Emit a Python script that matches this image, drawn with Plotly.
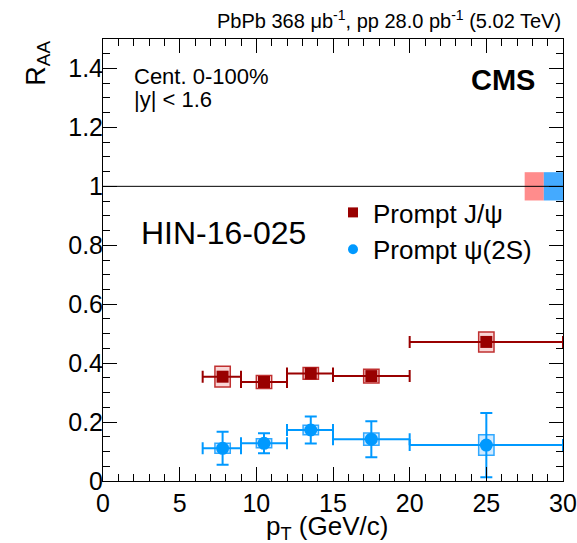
import plotly.graph_objects as go

# ---- data ----
pt_jpsi = [7.8, 10.5, 13.55, 17.5, 25.0]
pt_lo = [6.5, 9.0, 12.0, 15.0, 20.0]
pt_hi = [9.0, 12.0, 15.0, 20.0, 30.0]
raa_jpsi = [0.354, 0.336, 0.365, 0.356, 0.472]
stat_jpsi = [0.006, 0.005, 0.005, 0.005, 0.008]
syst_jpsi = [0.035, 0.022, 0.020, 0.023, 0.034]

pt_psi2s = [7.8, 10.5, 13.55, 17.5, 25.0]
raa_psi2s = [0.111, 0.128, 0.173, 0.142, 0.122]
stat_psi2s = [0.056, 0.034, 0.046, 0.061, 0.109]
syst_psi2s = [0.017, 0.015, 0.016, 0.021, 0.035]

glob_jpsi = 0.048
glob_psi2s = 0.048
glob_x_jpsi = [27.5, 28.75]
glob_x_psi2s = [28.75, 30.0]
syst_halfwidth = 0.5

RED = "#990000"
BLUE = "#0099ff"
FONT = "Liberation Sans"

fig = go.Figure()

shapes = []
for x, y, s in zip(pt_jpsi, raa_jpsi, syst_jpsi):
    shapes.append(dict(type="rect", xref="x", yref="y", x0=x - syst_halfwidth, x1=x + syst_halfwidth,
                       y0=y - s, y1=y + s, fillcolor="rgba(230,90,90,0.25)",
                       line=dict(color="#c03030", width=1.5), layer="below"))
for x, y, s in zip(pt_psi2s, raa_psi2s, syst_psi2s):
    shapes.append(dict(type="rect", xref="x", yref="y", x0=x - syst_halfwidth, x1=x + syst_halfwidth,
                       y0=y - s, y1=y + s, fillcolor="rgba(0,140,255,0.18)",
                       line=dict(color="#30a8ff", width=1.5), layer="below"))
# global uncertainty boxes
shapes.append(dict(type="rect", xref="x", yref="y", x0=glob_x_jpsi[0], x1=glob_x_jpsi[1],
                   y0=1 - glob_jpsi, y1=1 + glob_jpsi,
                   fillcolor="#ff8c8c", line=dict(width=0), layer="below"))
shapes.append(dict(type="rect", xref="x", yref="y", x0=glob_x_psi2s[0], x1=glob_x_psi2s[1],
                   y0=1 - glob_psi2s, y1=1 + glob_psi2s,
                   fillcolor="#44aaff", line=dict(width=0), layer="below"))
# unity line
shapes.append(dict(type="line", xref="paper", yref="y", x0=0, x1=1, y0=1, y1=1,
                   line=dict(color="black", width=1)))

fig.add_trace(go.Scatter(
    x=pt_jpsi, y=raa_jpsi, mode="markers", name="Prompt J/ψ", showlegend=False,
    marker=dict(symbol="square", size=12, color=RED),
    error_x=dict(type="data", symmetric=False,
                 array=[h - x for h, x in zip(pt_hi, pt_jpsi)],
                 arrayminus=[x - l for l, x in zip(pt_lo, pt_jpsi)],
                 color=RED, thickness=2, width=6),
    error_y=dict(type="data", array=stat_jpsi, color=RED, thickness=2, width=0),
))
fig.add_trace(go.Scatter(
    x=pt_psi2s, y=raa_psi2s, mode="markers", name="Prompt ψ(2S)", showlegend=False,
    marker=dict(symbol="circle", size=13, color=BLUE),
    error_x=dict(type="data", symmetric=False,
                 array=[h - x for h, x in zip(pt_hi, pt_psi2s)],
                 arrayminus=[x - l for l, x in zip(pt_lo, pt_psi2s)],
                 color=BLUE, thickness=2, width=6),
    error_y=dict(type="data", array=stat_psi2s, color=BLUE, thickness=2, width=6),
))
# legend entries (smaller symbols, as in the reference legend)
fig.add_trace(go.Scatter(x=[None], y=[None], mode="markers", name="Prompt J/ψ",
                         marker=dict(symbol="square", size=10, color=RED)))
fig.add_trace(go.Scatter(x=[None], y=[None], mode="markers", name="Prompt ψ(2S)",
                         marker=dict(symbol="circle", size=10, color=BLUE)))

axis_common = dict(showline=True, linecolor="black", linewidth=1, mirror="ticks",
                   ticks="inside", ticklen=14, tickcolor="black", tickwidth=1,
                   showgrid=False, zeroline=False, automargin=False,
                   tickfont=dict(family=FONT, size=25, color="black"))

fig.update_xaxes(range=[0, 30], dtick=5, tick0=0,
                 minor=dict(dtick=1, ticklen=7, ticks="inside", tickcolor="black", showgrid=False),
                 **axis_common)
fig.update_yaxes(range=[0, 1.5], dtick=0.2, tick0=0, ticklabelstandoff=-6,
                 minor=dict(dtick=0.05, ticklen=7, ticks="inside", tickcolor="black", showgrid=False),
                 **axis_common)

annotations = [
    dict(text="PbPb 368 μb<sup>-1</sup>, pp 28.0 pb<sup>-1</sup> (5.02 TeV)", xref="paper", yref="paper",
         x=1, y=1.045, xanchor="right", yanchor="middle", showarrow=False,
         font=dict(family=FONT, size=20, color="black")),
    dict(text="R<sub>AA</sub>", xref="paper", yref="paper", x=-0.143, y=1.0, textangle=-90,
         xanchor="center", yanchor="top", showarrow=False, font=dict(family=FONT, size=27, color="black")),
    dict(text="p<sub>T</sub> (GeV/c)", xref="paper", yref="paper", x=(327 - 103) / 460, y=-(527 - 481) / 442,
         xanchor="center", yanchor="middle", showarrow=False, font=dict(family=FONT, size=26, color="black")),
    dict(text="Cent. 0-100%", xref="paper", yref="paper", x=(132 - 103) / 460, y=(481 - 76) / 442,
         xanchor="left", yanchor="middle", showarrow=False, font=dict(family=FONT, size=22, color="black")),
    dict(text="|y| < 1.6", xref="paper", yref="paper", x=(132 - 103) / 460, y=(481 - 100) / 442,
         xanchor="left", yanchor="middle", showarrow=False, font=dict(family=FONT, size=22, color="black")),
    dict(text="<b>CMS</b>", xref="paper", yref="paper", x=(537 - 103) / 460, y=(481 - 80) / 442,
         xanchor="right", yanchor="middle", showarrow=False, font=dict(family=FONT, size=29, color="black")),
    dict(text="HIN-16-025", xref="paper", yref="paper", x=(139 - 103) / 460, y=(481 - 233) / 442,
         xanchor="left", yanchor="middle", showarrow=False, font=dict(family=FONT, size=32, color="black")),
]

fig.update_layout(
    width=577, height=543,
    margin=dict(l=103, r=14, t=39, b=62, autoexpand=False),
    plot_bgcolor="white", paper_bgcolor="white",
    shapes=shapes, annotations=annotations,
    showlegend=True,
    legend=dict(x=(333 - 103) / 460, y=(481 - 189) / 442, xanchor="left", yanchor="top",
                bgcolor="rgba(0,0,0,0)", font=dict(family=FONT, size=26, color="black"),
                itemwidth=30, tracegroupgap=0),
    font=dict(family=FONT, color="black"),
)

fig.write_html("out.html")
